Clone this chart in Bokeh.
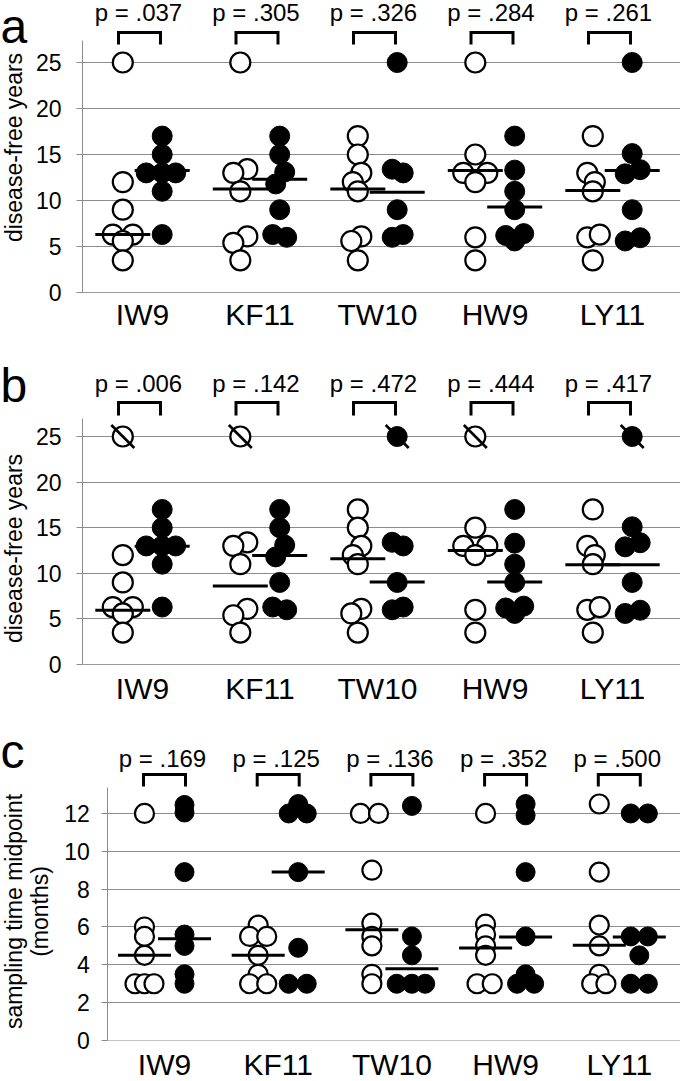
import numpy as np
from bokeh.plotting import figure
from bokeh.layouts import column
from bokeh.models import Range1d, FixedTicker
from bokeh.core.properties import value
from bokeh.embed import file_html
from bokeh.resources import INLINE

FONT = "Liberation Sans"
GRID = "#8c8c8c"

categories = ["IW9", "KF11", "TW10", "HW9", "LY11"]

# ---- disease-free years (panels a and b share the observations) ----
dfy_open = [
    [25, 12, 9, 6.3, 6.3, 5.6, 3.5],
    [25, 13.4, 13.0, 11.0, 6.1, 5.4, 3.5],
    [17, 15, 13.0, 12.0, 11.0, 6.1, 5.6, 3.5],
    [25, 15, 13.0, 13.0, 12.0, 6.0, 3.5],
    [17, 13.0, 12.0, 11.0, 6.0, 6.3, 3.5],
]
dfy_open_jitter = [
    [0, 0, 0, -1, 1, 0, 0],
    [0, 0.7, -0.7, 0, 0.7, -0.7, 0],
    [0, 0, 0.35, -0.5, 0, 0.35, -0.65, 0],
    [0, 0, -1.2, 1.2, 0, 0, 0],
    [0, -0.55, 0.2, 0, -0.55, 0.7, 0],
]
dfy_filled = [
    [17, 15, 13, 13, 13, 11, 6.3],
    [17, 15, 13.1, 11.8, 9, 6.3, 6.0],
    [25, 13.4, 13.0, 9, 6.0, 6.3],
    [17, 13.3, 11, 9, 6.2, 6.4, 5.6],
    [25, 15.1, 12.9, 13.35, 9, 5.95, 5.6],
]
dfy_filled_jitter = [
    [0, 0, -1.6, 0, 1.35, 0, 0],
    [0, 0, 0.5, -0.4, 0, -0.7, 0.7],
    [0, -0.5, 0.6, 0, -0.5, 0.6],
    [0, 0, 0, 0, -0.9, 0.9, 0],
    [0, 0, -0.7, 0.8, 0, 0.8, -0.7],
]
median_a_open = [6.3, 11.25, 11.25, 13.25, 11.1]
median_a_filled = [13.25, 12.3, 10.9, 9.3, 13.25]
median_b_open = [5.95, 8.6, 11.6, 12.5, 10.93]
median_b_filled = [12.97, 11.95, 9.04, 9.04, 10.93]
p_a = [0.037, 0.305, 0.326, 0.284, 0.261]
p_b = [0.006, 0.142, 0.472, 0.444, 0.417]

# ---- sampling time midpoint (months), panel c ----
smp_open = [
    [12, 6.0, 5.5, 4.5, 3, 3, 3],
    [6.1, 5.5, 5.5, 4.5, 3.5, 3, 3],
    [12, 12, 9, 6.2, 5.5, 5.0, 3.5, 3],
    [12, 6.15, 5.6, 5.0, 4.5, 3, 3],
    [12.5, 8.9, 6.1, 5.0, 3.5, 3, 3],
]
smp_open_jitter = [
    [0, 0, 0, 0, -1, 0, 1],
    [0, -0.9, 0.9, 0, 0, -0.9, 0.9],
    [-1.2, 0.7, 0, 0, 0, 0, 0, 0],
    [0, 0, 0, 0, 0, -0.9, 0.7],
    [0, 0, 0, 0, 0, -0.8, 0.7],
]
smp_filled = [
    [12.45, 12.05, 8.9, 5.6, 5.0, 3.5, 3.0],
    [12.5, 12, 12, 8.9, 4.9, 3, 3],
    [12.4, 5.5, 4.5, 3, 3, 3],
    [12.5, 11.9, 8.9, 5.5, 3.5, 3, 3],
    [12, 12, 5.5, 5.5, 4.5, 3, 3],
]
smp_filled_jitter = [
    [0, 0, 0, 0, 0, 0, 0],
    [0, -1, 0.9, 0, 0, -1, 0.9],
    [0, 0, 0, -1.6, 0, 1.4],
    [0, 0, 0, 0, 0, -0.9, 0.9],
    [-0.9, 0.9, -0.9, 0.9, 0, -0.9, 0.9],
]
median_c_open = [4.5, 4.5, 5.86, 4.89, 5.03]
median_c_filled = [5.38, 8.91, 3.79, 5.47, 5.47]
p_c = [0.169, 0.125, 0.136, 0.352, 0.500]

ticks_dfy = [0, 5, 10, 15, 20, 25]
ticks_smp = [0, 2, 4, 6, 8, 10, 12]

W = 680


def panel(cfg, open_vals, open_jit, filled_vals, filled_jit, med_open, med_filled,
          pvals, ticks, crossed=False):
    cat_px, ppu = cfg["cat_px"], cfg["ppu"]
    H, bot = cfg["height"], cfg["bottom"]
    x0 = 1 - cfg["first_center"] / cat_px
    x1 = x0 + W / cat_px

    def X(px):  # figure-left-relative px -> data x
        return x0 + px / cat_px

    p = figure(width=W, height=H, x_range=Range1d(x0, x1),
               y_range=Range1d(-bot / ppu, (H - bot) / ppu), output_backend="svg",
               toolbar_location=None, min_border_left=0, min_border_right=0,
               min_border_top=0, min_border_bottom=0)
    p.outline_line_color = None
    p.background_fill_color = "white"
    p.border_fill_color = "white"

    centers = np.arange(1, len(categories) + 1)
    side = cfg["side"] / cat_px
    r = cfg["size"] / 2.0

    def pts(vals, jit, sign):
        xs, ys = [], []
        for c, vs, js in zip(centers, vals, jit):
            for v, j in zip(vs, js):
                xs.append(c + sign * side + j * r / cat_px)
                ys.append(v)
        return xs, ys

    ox, oy = pts(open_vals, open_jit, -1)
    fx, fy = pts(filled_vals, filled_jit, 1)
    p.scatter(ox, oy, marker="circle", size=cfg["size"], fill_color="white",
              line_color="black", line_width=2.2)
    p.scatter(fx, fy, marker="circle", size=cfg["size"], fill_color="black",
              line_color="black", line_width=1)

    half = cfg["med_half"] / cat_px
    for sign, meds in ((-1, med_open), (1, med_filled)):
        cx = centers + sign * side
        p.segment(x0=cx - half, y0=meds, x1=cx + half, y1=meds,
                  line_color="black", line_width=3)

    if crossed:
        d = 11.5
        cxs, cys = [], []
        for xs, ys in ((ox, oy), (fx, fy)):
            for x, y in zip(xs, ys):
                if y >= 25:
                    cxs.append(x)
                    cys.append(y)
        cxs = np.array(cxs)
        cys = np.array(cys)
        p.segment(x0=cxs - d / cat_px, y0=cys + d / ppu, x1=cxs + d / cat_px,
                  y1=cys - d / ppu, line_color="black", line_width=2.7)

    # brackets
    bl = cfg["br_half"] / cat_px
    bs = cfg["br_shift"] / cat_px
    top = cfg["br_top"] / ppu
    leg = cfg["br_leg"] / ppu
    p.multi_line(xs=[[c + bs - bl, c + bs - bl, c + bs + bl, c + bs + bl] for c in centers],
                 ys=[[leg, top, top, leg] for _ in centers],
                 line_color="black", line_width=3, line_join="miter")

    # p-values
    p.text(x=centers + cfg["p_shift"] / cat_px, y=[cfg["p_mid"] / ppu] * len(centers),
           text=["p = " + f"{v:.3f}"[1:] for v in pvals],
           text_font=value(FONT), text_font_size="24px", text_align="center",
           text_baseline="middle", text_color="black")

    # axes (drawn at fixed locations inside the frame)
    ax_x = X(cfg["axis_px"])
    ya = p.yaxis[0]
    ya.fixed_location = ax_x
    ya.ticker = FixedTicker(ticks=ticks)
    ya.bounds = (0, cfg["axis_top"] / ppu)
    ya.axis_line_color = GRID
    ya.major_tick_line_color = GRID
    ya.major_tick_out = 6
    ya.major_tick_in = 0
    ya.minor_tick_line_color = None
    ya.minor_tick_out = 0
    ya.major_label_text_font = FONT
    ya.major_label_text_font_size = cfg["ytick_size"]
    ya.major_label_text_color = "black"
    ya.major_label_standoff = cfg["y_standoff"]

    xa = p.xaxis[0]
    xa.fixed_location = 0
    xa.bounds = (ax_x, x1)
    xa.ticker = FixedTicker(ticks=[int(c) for c in centers])
    xa.major_label_overrides = {int(c): n for c, n in zip(centers, categories)}
    xa.major_tick_line_color = None
    xa.major_tick_out = 0
    xa.major_tick_in = 0
    xa.minor_tick_line_color = None
    xa.minor_tick_out = 0
    xa.axis_line_color = cfg["xcolor"]
    xa.major_label_text_font = FONT
    xa.major_label_text_font_size = "30px"
    xa.major_label_text_color = "black"
    xa.major_label_standoff = cfg["x_standoff"]

    p.xgrid.visible = False
    p.ygrid.ticker = FixedTicker(ticks=ticks[1:])
    p.ygrid.cross_bounds = (ax_x, x1)
    p.ygrid.grid_line_color = GRID
    p.ygrid.grid_line_width = 1

    # panel letter and y title
    p.text(x=[X(cfg["letter_px"])], y=[cfg["letter_mid"] / ppu], text=[cfg["letter"]],
           text_font=value(FONT), text_font_size="48px", text_align="left",
           text_baseline="middle", text_color="black")
    n = len(cfg["ytitle"])
    p.text(x=[X(v) for v in cfg["ytitle_px"]], y=[cfg["ytitle_y"] / ppu] * n,
           text=cfg["ytitle"], angle=np.pi / 2, text_font=value(FONT),
           text_font_size="23px", text_align="center", text_baseline="middle",
           text_color="black")
    return p


cfg_a = dict(height=340, bottom=48, axis_px=82, first_center=142, cat_px=117.5, ppu=9.2,
             side=19.7, size=20, med_half=27.5, br_half=21, br_shift=-3, p_shift=-4,
             p_mid=280.3, br_top=260, br_leg=248, axis_top=252, y_standoff=15,
             ytick_size="23px", x_standoff=5, xcolor="#9a9a9a", letter="a",
             letter_px=0, letter_mid=266.5, ytitle=["disease-free years"],
             ytitle_px=[13], ytitle_y=145)
cfg_b = dict(height=370, bottom=46, axis_px=82, first_center=142, cat_px=117.5, ppu=9.12,
             side=19.7, size=20, med_half=27.5, br_half=21, br_shift=-3, p_shift=-4,
             p_mid=280.7, br_top=262, br_leg=249, axis_top=246, y_standoff=15,
             ytick_size="23px", x_standoff=7, xcolor="#9a9a9a", letter="b",
             letter_px=0, letter_mid=278.6, ytitle=["disease-free years"],
             ytitle_px=[13], ytitle_y=116)
cfg_c = dict(height=371, bottom=41, axis_px=107.3, first_center=164, cat_px=113.7,
             ppu=18.92, side=20, size=19, med_half=26.5, br_half=21, br_shift=0,
             p_shift=-2, p_mid=281.7, br_top=266, br_leg=254, axis_top=253, y_standoff=12,
             ytick_size="23px", x_standoff=7, xcolor="#c4c4c4", letter="c",
             letter_px=0, letter_mid=288.6, ytitle=["sampling time midpoint", "(months)"],
             ytitle_px=[13, 39], ytitle_y=129)

fa = panel(cfg_a, dfy_open, dfy_open_jitter, dfy_filled, dfy_filled_jitter,
           median_a_open, median_a_filled, p_a, ticks_dfy)
fb = panel(cfg_b, dfy_open, dfy_open_jitter, dfy_filled, dfy_filled_jitter,
           median_b_open, median_b_filled, p_b, ticks_dfy, crossed=True)
fc = panel(cfg_c, smp_open, smp_open_jitter, smp_filled, smp_filled_jitter,
           median_c_open, median_c_filled, p_c, ticks_smp)

layout = column(fa, fb, fc, spacing=0)
open("out.html", "w").write(file_html(layout, INLINE))
